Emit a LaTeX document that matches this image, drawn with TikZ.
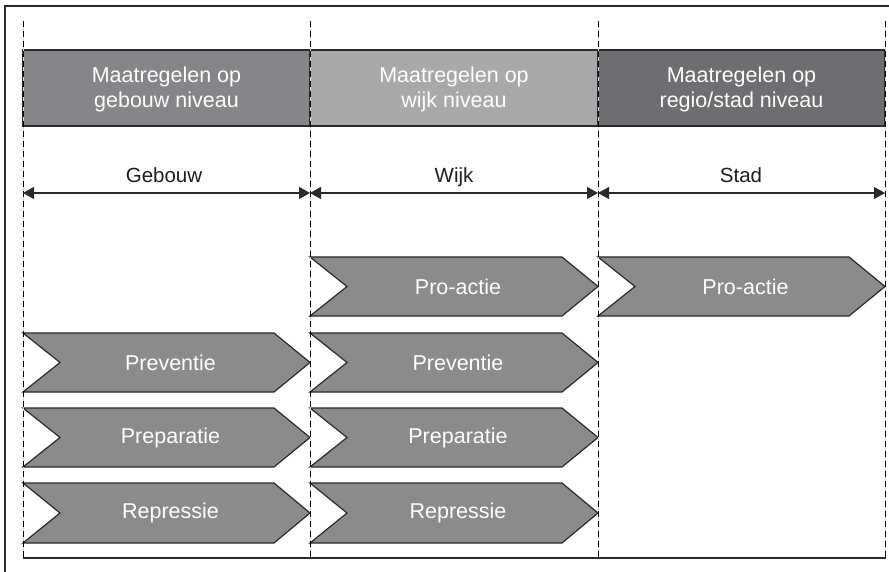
\documentclass[tikz,border=0pt]{standalone}
\usepackage{fontspec}
\setmainfont{Liberation Sans}
\usetikzlibrary{arrows.meta}
\definecolor{hdrA}{HTML}{858689}
\definecolor{hdrB}{HTML}{A7A9AB}
\definecolor{hdrC}{HTML}{6D6E71}
\definecolor{chevgray}{HTML}{8A8B8D}
\definecolor{edge}{HTML}{2A2A2A}
\definecolor{ink}{HTML}{1E1E1E}
\tikzset{
  frame/.style={draw=edge, line width=1.2pt},
  guide/.style={draw=black, line width=1pt, dash pattern=on 6pt off 4pt},
  guidebg/.style={draw=black!15, line width=0.6pt},
  hdrbox/.style={draw=edge, line width=1.2pt},
  hdrtext/.style={text=white, align=center, font=\fontsize{21.5}{25}\selectfont},
  chevfill/.style={fill=chevgray, draw=edge, line width=1.2pt, line join=miter},
  chevtext/.style={text=white, font=\fontsize{21.5}{25}\selectfont, inner sep=0pt},
  span/.style={draw=edge, line width=1.2pt, {Triangle[length=11pt,width=12pt]}-{Triangle[length=11pt,width=12pt]}},
  spanlabel/.style={text=ink, font=\fontsize{20.5}{24}\selectfont, anchor=base, inner sep=0pt}
}
\newcommand\chevron[6]{%
  \filldraw[chevfill] (#2,#4) -- (#3-36,#4) -- (#3,{(#4+#5)/2}) -- (#3-36,#5) -- (#2,#5) -- (#2+37,{(#4+#5)/2}) -- cycle;
  \node[chevtext] (#1) at ({(#2+#3)/2+4},{(#4+#5)/2}) {#6};}
\begin{document}
\begin{tikzpicture}[x=1pt,y=-1pt]
\useasboundingbox (0,0) rectangle (889,572);
% outer frame (cropped)
\draw[frame] (5,572) -- (5,6) -- (889,6);
\draw[frame] (23,558) -- (886,558);
% column guide coordinates
\coordinate (g1t) at (23,21);  \coordinate (g1b) at (23,557);
\coordinate (g2t) at (310,21); \coordinate (g2b) at (310,557);
\coordinate (g3t) at (598,21); \coordinate (g3b) at (598,557);
\coordinate (g4t) at (885,21); \coordinate (g4b) at (885,557);
% header boxes
\filldraw[hdrbox, fill=hdrA] (23,50) rectangle (310,126);
\filldraw[hdrbox, fill=hdrB] (310,50) rectangle (598,126);
\filldraw[hdrbox, fill=hdrC] (598,50) rectangle (885,126);
\node[hdrtext] (h1) at (166.5,89) {Maatregelen op\\gebouw niveau};
\node[hdrtext] (h2) at (454,89) {Maatregelen op\\wijk niveau};
\node[hdrtext] (h3) at (741.5,89) {Maatregelen op\\regio/stad niveau};
% chevrons
\chevron{pa2}{310}{598}{257}{316}{Pro-actie}
\chevron{pa3}{598}{885}{257}{316}{Pro-actie}
\chevron{pv1}{23}{310}{333}{392}{Preventie}
\chevron{pv2}{310}{598}{333}{392}{Preventie}
\chevron{pp1}{23}{310}{408}{467}{Preparatie}
\chevron{pp2}{310}{598}{408}{467}{Preparatie}
\chevron{rp1}{23}{310}{483}{543}{Repressie}
\chevron{rp2}{310}{598}{483}{543}{Repressie}
% guides
\foreach \g in {1,2,3,4}{
  \draw[guidebg] (g\g t) -- (g\g b);
  \draw[guide] (g\g t) -- (g\g b);
}
% span arrows
\coordinate (a1) at (23,193); \coordinate (a2) at (310,193);
\coordinate (a3) at (598,193); \coordinate (a4) at (885,193);
\draw[span] (a1) -- (a2);
\draw[span] (a2) -- (a3);
\draw[span] (a3) -- (a4);
\node[spanlabel] (l1) at (164,183) {Gebouw};
\node[spanlabel] (l2) at (454,183) {Wijk};
\node[spanlabel] (l3) at (741,183) {Stad};
\end{tikzpicture}
\end{document}
